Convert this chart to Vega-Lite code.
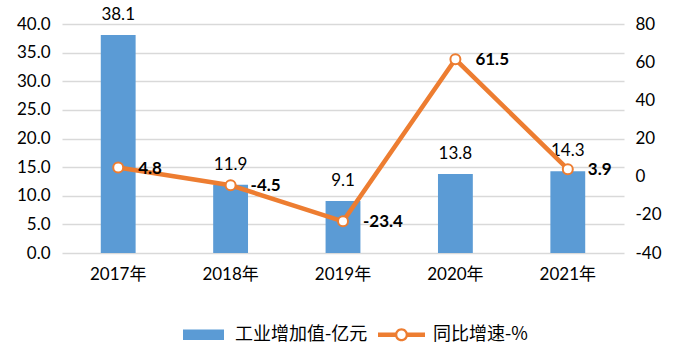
{
  "$schema": "https://vega.github.io/schema/vega-lite/v6.json",
  "width": 562,
  "height": 229,
  "autosize": {"type": "none"},
  "padding": {"left": 62, "top": 24, "right": 53, "bottom": 99},
  "background": "white",
  "data": {
    "values": [
      {"year": "2017年", "value": 38.1, "growth": 4.8},
      {"year": "2018年", "value": 11.9, "growth": -4.5},
      {"year": "2019年", "value": 9.1, "growth": -23.4},
      {"year": "2020年", "value": 13.8, "growth": 61.5},
      {"year": "2021年", "value": 14.3, "growth": 3.9}
    ]
  },
  "config": {
    "locale": {"number": {"decimal": ".", "thousands": ",", "grouping": [3], "currency": ["", ""], "minus": "-"}},
    "font": "Lato, 'Noto Sans CJK SC', sans-serif",
    "view": {"stroke": null},
    "axis": {"labelFont": "Lato, 'Noto Sans CJK SC', sans-serif", "labelFontSize": 17, "labelColor": "#000000", "domain": false, "ticks": false, "title": null},
    "text": {"font": "Lato, 'Noto Sans CJK SC', sans-serif"}
  },
  "encoding": {
    "x": {
      "field": "year", "type": "nominal", "sort": null,
      "scale": {"paddingInner": 0.69, "paddingOuter": 0.345},
      "axis": {"labelAngle": 0, "labelPadding": 13, "grid": false, "labelFontSize": 17}
    }
  },
  "layer": [
    {
      "encoding": {
        "y": {"field": "value", "type": "quantitative",
          "scale": {"domain": [0, 40], "nice": false},
          "axis": {"values": {"signal": "[0, 5, 10, 15, 20, 25, 30, 35, 40]"}, "format": ".1f", "labelPadding": 12, "grid": true, "gridColor": "#d9d9d9", "gridWidth": 1.6, "labelOverlap": false}}
      },
      "layer": [
        {
          "mark": {"type": "bar"},
          "encoding": {
            "color": {"datum": "工业增加值-亿元", "type": "nominal",
              "scale": {"domain": ["工业增加值-亿元", "同比增速-%"], "range": ["#5b9bd5", "#ed7d31"]},
              "legend": {
                "title": null, "orient": "none", "direction": "horizontal",
                "legendX": 121, "legendY": 290,
                "labelFontSize": 18, "labelFont": "'Noto Sans CJK SC', sans-serif", "labelColor": "#000000",
                "symbolSize": 2209, "labelOffset": 11, "columnPadding": 10, "symbolStrokeWidth": 0,
                "encode": {
                  "symbols": {
                    "update": {
                      "shape": {"signal": "datum.value === '同比增速-%' ? 'M-1,-0.1H-0.26V0.1H-1Z M0.26,-0.1H1V0.1H0.26Z M0.28,0A0.28,0.28,0,1,1,-0.28,0A0.28,0.28,0,1,1,0.28,0Z M0.18,0A0.18,0.18,0,1,0,-0.18,0A0.18,0.18,0,1,0,0.18,0Z' : 'M-1,-0.26H1V0.26H-1Z'"},
                      "size": {"signal": "datum.value === '同比增速-%' ? 2209 : 1681"},
                      "strokeWidth": {"value": 0},
                      "opacity": {"value": 1},
                      "fillOpacity": {"value": 1}
                    }
                  }
                }
              }
            }
          }
        },
        {
          "mark": {"type": "text", "baseline": "middle", "dy": -20, "fontSize": 17, "color": "#000000"},
          "encoding": {
            "text": {"field": "value", "type": "quantitative", "format": ".1f"}
          }
        }
      ]
    },
    {
      "encoding": {
        "y": {"field": "growth", "type": "quantitative",
          "scale": {"domain": [-40, 80], "nice": false},
          "axis": {"orient": "right", "values": {"signal": "[-40, -20, 0, 20, 40, 60, 80]"}, "labelPadding": 11, "grid": false, "labelAlign": "left", "labelOverlap": false}}
      },
      "layer": [
        {
          "mark": {"type": "line", "strokeWidth": 4.5, "color": "#ed7d31"},
          "encoding": {
            "color": {"datum": "同比增速-%", "type": "nominal"}
          }
        },
        {
          "mark": {"type": "point", "filled": false, "fill": "#ffffff", "stroke": "#ed7d31", "strokeWidth": 2, "size": 100, "opacity": 1, "fillOpacity": 1}
        },
        {
          "mark": {"type": "text", "align": "left", "baseline": "middle", "dx": 20, "dy": 1, "fontSize": 17, "fontWeight": "bold", "color": "#000000"},
          "encoding": {
            "text": {"field": "growth", "type": "quantitative", "format": ".1f"}
          }
        }
      ]
    }
  ],
  "resolve": {"scale": {"y": "independent"}}
}
